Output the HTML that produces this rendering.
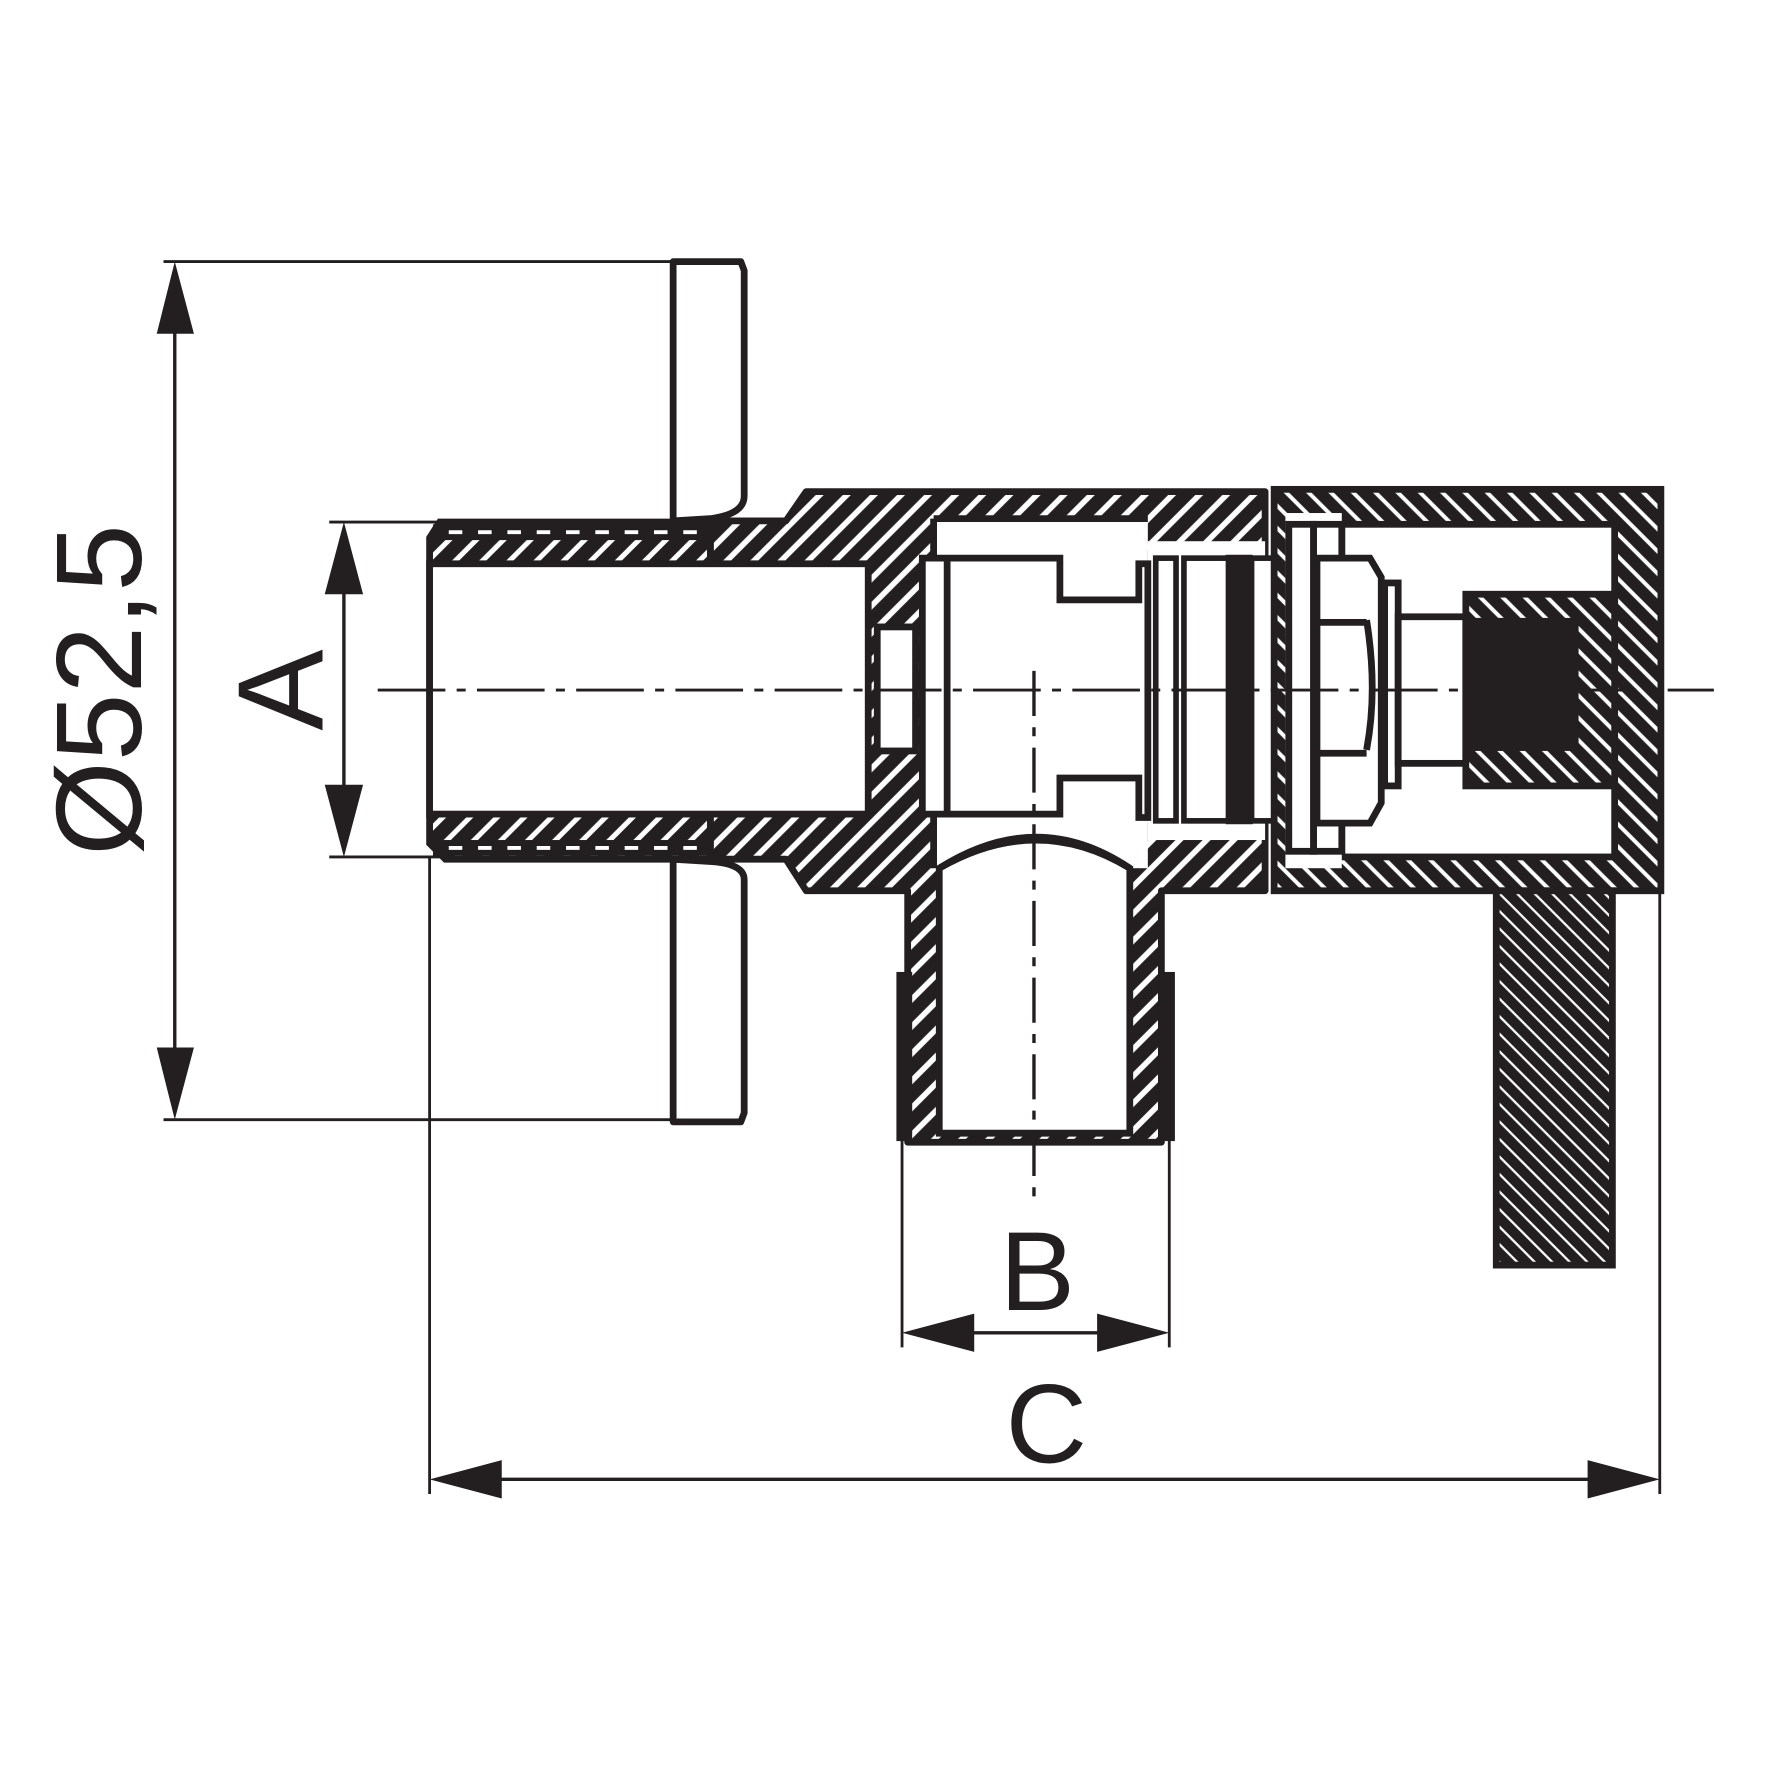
<!DOCTYPE html>
<html><head><meta charset="utf-8"><style>html,body{margin:0;padding:0;background:#fff}svg{display:block}</style></head>
<body>
<svg width="1768" height="1768" viewBox="0 0 1568 1568" xmlns="http://www.w3.org/2000/svg">
<defs>
<pattern id="hb" patternUnits="userSpaceOnUse" width="17" height="17" patternTransform="rotate(45)">
<rect width="17" height="17" fill="#231f20"/><rect x="6" y="0" width="5" height="17" fill="#fff"/></pattern>
<pattern id="hp" patternUnits="userSpaceOnUse" width="17" height="17" patternTransform="rotate(45)">
<rect width="17" height="17" fill="#231f20"/><rect x="6" y="0" width="4.5" height="17" fill="#fff"/></pattern>
<pattern id="hc" patternUnits="userSpaceOnUse" width="14" height="14" patternTransform="rotate(-45)">
<rect width="14" height="14" fill="#231f20"/><rect x="6" y="0" width="3.5" height="14" fill="#fff"/></pattern>
<pattern id="hf" patternUnits="userSpaceOnUse" width="11" height="11" patternTransform="rotate(-45)">
<rect width="11" height="11" fill="#231f20"/><rect x="5" y="0" width="2" height="11" fill="#fff"/></pattern>
</defs>
<g fill="none" stroke="#231f20" stroke-linejoin="round">
<line x1="145" y1="232" x2="597" y2="232" stroke-width="2.5"/>
<line x1="145" y1="993" x2="597" y2="993" stroke-width="2.5"/>
<line x1="155" y1="290" x2="155" y2="935" stroke-width="3"/>
<line x1="292" y1="463" x2="392" y2="463" stroke-width="2.5"/>
<line x1="292" y1="760" x2="392" y2="760" stroke-width="2.5"/>
<line x1="305" y1="520" x2="305" y2="700" stroke-width="3"/>
<line x1="800" y1="1010" x2="800" y2="1195" stroke-width="2.5"/>
<line x1="1037" y1="1010" x2="1037" y2="1195" stroke-width="2.5"/>
<line x1="860" y1="1182" x2="975" y2="1182" stroke-width="3"/>
<line x1="381" y1="760" x2="381" y2="1325" stroke-width="2.5"/>
<line x1="1472" y1="790" x2="1472" y2="1325" stroke-width="2.5"/>
<line x1="440" y1="1312" x2="1412" y2="1312" stroke-width="3"/>
</g>
<g fill="#231f20">
<polygon points="155,232 139,296 172,296"/><polygon points="155,993 139,929 172,929"/>
<polygon points="305,463 288,527 322,527"/><polygon points="305,760 288,696 322,696"/>
<polygon points="800,1182 864,1165 864,1199"/><polygon points="1037,1182 973,1165 973,1199"/>
<polygon points="381,1312 445,1295 445,1329"/><polygon points="1472,1312 1408,1295 1408,1329"/>
</g>
<g fill="#fff" stroke="#231f20" stroke-width="6" stroke-linejoin="round">
<path d="M597,462 L597,232 L657,232 L660,240 L660,440 Q660,456 630,460 Z"/>
<path d="M597,762 L597,995 L657,995 L660,987 L660,780 Q660,766 630,764 Z"/>
</g>
<path d="M630,462 L697,462 L715,436 L1122,436 L1122,790 L1030,790 L1030,1013 L805,1013 L805,790 L715,790 L697,762 L630,762 Z" fill="url(#hb)" stroke="#231f20" stroke-width="6" stroke-linejoin="round"/>
<rect x="795" y="862" width="14" height="150" fill="#231f20"/>
<rect x="1028" y="862" width="14" height="150" fill="#231f20"/>
<path d="M390,463 L630,463 L630,762 L395,762 L381,748 L381,477 Z" fill="url(#hp)" stroke="#231f20" stroke-width="6"/>
<rect x="384" y="465" width="246" height="14" fill="#231f20"/>
<rect x="384" y="745" width="246" height="14" fill="#231f20"/>
<line x1="398" y1="472" x2="625" y2="472" stroke="#fff" stroke-width="3.5" stroke-dasharray="12,14"/>
<line x1="398" y1="752" x2="625" y2="752" stroke="#fff" stroke-width="3.5" stroke-dasharray="12,14"/>
<g fill="#fff" stroke="#231f20" stroke-width="6">
<rect x="381" y="500" width="389" height="222"/>
<rect x="828" y="460" width="190" height="310" stroke="none"/>
<rect x="778" y="556" width="34" height="110"/>
<rect x="1018" y="480" width="104" height="265" stroke="none"/>
<path d="M833,770 Q920,720 1002,770 L1002,1005 L833,1005 Z"/>
</g>
<g fill="none" stroke="#231f20" stroke-width="6">
<line x1="828" y1="460" x2="1018" y2="460"/>
<line x1="828" y1="460" x2="828" y2="770"/>
<path d="M833,770 Q920,715 1002,770"/>
<path d="M818,495 L940,495 L940,532 L1010,532 L1010,500 L1018,500 L1018,725 L1010,725 L1010,690 L940,690 L940,722 L818,722 Z" fill="#fff"/>
<line x1="840" y1="498" x2="840" y2="722"/>
<rect x="1025" y="495" width="18" height="233" fill="#fff" stroke-width="5"/>
<rect x="1050" y="495" width="40" height="233" fill="#fff" stroke-width="5"/>
<rect x="1090" y="495" width="18" height="233" fill="#231f20"/>
<rect x="1110" y="495" width="25" height="233" fill="#fff" stroke-width="5"/>
</g>
<rect x="1130" y="434" width="343" height="356" fill="url(#hc)" stroke="#231f20" stroke-width="6"/>
<rect x="1190" y="465" width="242" height="295" fill="#fff" stroke="#231f20" stroke-width="6"/>
<rect x="1140" y="455" width="50" height="315" fill="#fff" stroke="none"/>
<g fill="#fff" stroke="#231f20" stroke-width="6">
<rect x="1143" y="465" width="22" height="290"/>
<rect x="1165" y="465" width="25" height="290"/>
<path d="M1168,495 L1215,495 L1225,512 L1225,712 L1215,730 L1168,730 Z"/>
<path d="M1212,550 Q1222,612 1212,665" fill="none"/>
<line x1="1168" y1="552" x2="1212" y2="552"/><line x1="1168" y1="668" x2="1212" y2="668"/>
<rect x="1228" y="517" width="12" height="180"/>
<rect x="1240" y="547" width="60" height="130"/>
</g>
<rect x="1300" y="527" width="132" height="170" fill="url(#hc)" stroke="#231f20" stroke-width="6"/>
<rect x="1302" y="548" width="98" height="118" fill="#231f20"/>
<rect x="1327" y="790" width="103" height="332" fill="url(#hf)" stroke="#231f20" stroke-width="6"/>
<line x1="335" y1="612" x2="1520" y2="612" stroke="#231f20" stroke-width="2.5" stroke-dasharray="60,10,8,10"/>
<line x1="917" y1="595" x2="917" y2="1062" stroke="#231f20" stroke-width="3" stroke-dasharray="40,10,8,10"/>
<g font-family="Liberation Sans, sans-serif" fill="#231f20" text-anchor="middle">
<text transform="translate(125,612) rotate(-90)" font-size="108">Ø52,5</text>
<text transform="translate(286,612) rotate(-90)" font-size="108">A</text>
<text x="920" y="1162" font-size="100">B</text>
<text x="928" y="1297" font-size="100">C</text>
</g>
</svg>
</body></html>
